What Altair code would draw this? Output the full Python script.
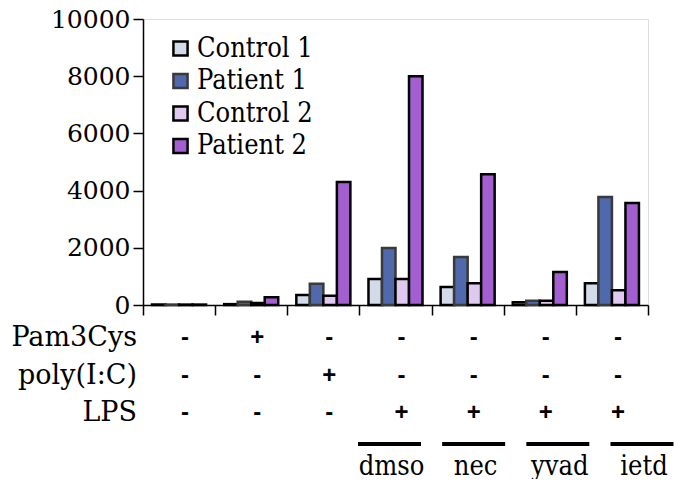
import altair as alt
import pandas as pd

# ---- data ----
groups = ["untreated", "Pam3Cys", "poly(I:C)", "LPS dmso", "LPS nec", "LPS yvad", "LPS ietd"]
series = ["Control 1", "Patient 1", "Control 2", "Patient 2"]
control1 = [15, 30, 350, 910, 630, 95, 760]
patient1 = [15, 110, 745, 1990, 1680, 150, 3780]
control2 = [15, 70, 325, 910, 760, 150, 515]
patient2 = [15, 270, 4300, 8000, 4570, 1150, 3570]
colors = ["#d3dbea", "#5068ac", "#e0c9ee", "#a35fcf"]
strokes = ["#000000", "#3a3a3a", "#000000", "#000000"]

row_labels = ["Pam3Cys", "poly(I:C)", "LPS"]
pam3cys = ["-", "+", "-", "-", "-", "-", "-"]
polyic = ["-", "-", "+", "-", "-", "-", "-"]
lps = ["-", "-", "-", "+", "+", "+", "+"]
inhibitors = ["dmso", "nec", "yvad", "ietd"]
inhibitor_groups = groups[3:]

rows = []
for s, vals in zip(series, [control1, patient1, control2, patient2]):
    for g, v in zip(groups, vals):
        rows.append({"group": g, "series": s, "value": v})
bars_df = pd.DataFrame(rows)

F_SERIF = "DejaVu Serif"
F_COND = "DejaVu Serif Condensed"

x_enc = alt.X(
    "group:N",
    sort=groups,
    scale=alt.Scale(domain=groups, paddingInner=0, paddingOuter=0),
    axis=alt.Axis(labels=False, title=None, tickBand="extent", tickSize=10,
                  tickColor="black", domainColor="black", domainWidth=1.5,
                  tickWidth=1.5, grid=False),
)

bars = alt.Chart(bars_df).mark_bar(strokeWidth=2.5).encode(
    x=x_enc,
    xOffset=alt.XOffset("series:N", sort=series,
                        scale=alt.Scale(domain=series, paddingInner=0, paddingOuter=0.67)),
    y=alt.Y("value:Q",
            scale=alt.Scale(domain=[0, 10000], nice=False),
            axis=alt.Axis(values=[0, 2000, 4000, 6000, 8000, 10000], format="d",
                          title=None, grid=False, tickSize=10, tickColor="black",
                          domainColor="black", domainWidth=1.5, tickWidth=1.5,
                          labelFont=F_SERIF, labelFontSize=25, labelColor="black",
                          labelPadding=3)),
    fill=alt.Fill("series:N", sort=series,
                  scale=alt.Scale(domain=series, range=colors),
                  legend=alt.Legend(orient="none", legendX=24, legendY=16, title=None,
                                    symbolType="square", symbolSize=200,
                                    symbolStrokeWidth=2.5,
                                    labelFont=F_COND, labelFontSize=27, labelColor="black",
                                    labelOffset=3, rowPadding=4.5, padding=0)),
    stroke=alt.Stroke("series:N", sort=series,
                      scale=alt.Scale(domain=series, range=strokes), legend=None),
)

layers = [bars]
row_y = [319, 357, 394]
for label, signs, yy in zip(row_labels, [pam3cys, polyic, lps], row_y):
    df = pd.DataFrame({"group": groups, "sign": signs})
    layers.append(
        alt.Chart(df).mark_text(font="Liberation Sans", fontSize=24, fontWeight="bold",
                                color="black", dx=6).encode(
            x=alt.X("group:N", sort=groups), y=alt.value(yy), text="sign:N")
    )
    layers.append(
        alt.Chart(pd.DataFrame({"label": [label]})).mark_text(
            font=F_SERIF, fontSize=27, color="black", align="right").encode(
            x=alt.value(-6), y=alt.value(yy), text="label:N")
    )

# inhibitor brackets: each label sits in its own sub-slot of its LPS group
inh_df = pd.DataFrame({"group": inhibitor_groups, "inhibitor": inhibitors})
inh_offset = alt.XOffset("inhibitor:N", sort=inhibitors,
                         scale=alt.Scale(domain=inhibitors, paddingInner=0,
                                         paddingOuter=1, align=1))
inh_layers = alt.layer(
    alt.Chart(inh_df).mark_bar(color="black", width=63, xOffset=7.5).encode(
        x=alt.X("group:N", sort=groups), xOffset=inh_offset,
        y=alt.value(423), y2=alt.value(427)),
    alt.Chart(inh_df).mark_text(font=F_COND, fontSize=27, color="black", dx=2).encode(
        x=alt.X("group:N", sort=groups), xOffset=inh_offset,
        y=alt.value(448), text="inhibitor:N"),
)

chart = alt.layer(*layers, inh_layers).resolve_scale(xOffset="independent").properties(
    width=505, height=286,
    padding={"left": 135, "top": 11, "right": 30, "bottom": 174},
    autosize=alt.AutoSizeParams(type="none"),
).configure_view(stroke=None).configure(background="white")

chart.save("out.html", embed_options={"renderer": "svg", "actions": False})
